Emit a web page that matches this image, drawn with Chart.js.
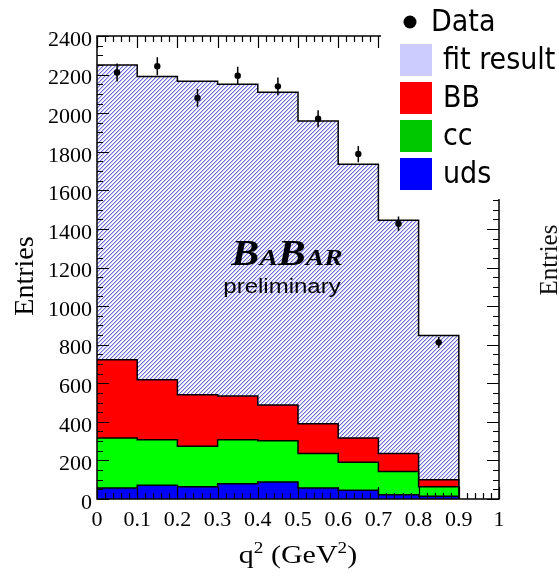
<!DOCTYPE html>
<html>
<head>
<meta charset="utf-8">
<script src="https://cdn.jsdelivr.net/npm/chart.js@4.4.1/dist/chart.umd.min.js"></script>
<style>
  html, body { margin: 0; padding: 0; background: #fff; }
</style>
</head>
<body>
<canvas id="myChart" width="559" height="576"></canvas>
<script>
// q^2 bin edges (GeV^2), nine bins of 0.1
const binEdges = [0, 0.1, 0.2, 0.3, 0.4, 0.5, 0.6, 0.7, 0.8, 0.9];

// fitted components per bin (entries)
const fitTotal   = [2250, 2190, 2165, 2150, 2108, 1960, 1735, 1445, 848];
const bbEntries  = [406, 311, 268, 227, 185, 154, 126, 93, 36];
const ccEntries  = [259, 236, 209, 228, 214, 179, 145, 121, 50];
const udsEntries = [57, 71, 64, 79, 88, 57, 45, 22, 14];

// measured data with statistical errors
const dataEntries = [2211, 2243, 2079, 2194, 2139, 1971, 1788, 1427, 812];
const dataErrors  = [47, 47, 46, 47, 46, 44, 42, 38, 28];

const legendLabels = ['Data', 'fit result', 'BB', 'cc', 'uds'];
const legendColors = [null, '#ccccff', '#ff0000', '#00c800', '#0000ff'];

const SERIF = '"Liberation Serif", "Times New Roman", serif';
const SANS = '"DejaVu Sans Condensed", "DejaVu Sans", sans-serif';

const ctx = document.getElementById('myChart').getContext('2d');

// diagonal hatch used for the fit result
function makeHatch() {
    const tile = document.createElement('canvas');
    tile.width = 4;
    tile.height = 4;
    const t = tile.getContext('2d');
    const shades = ['#6c6cd8', '#c8c8f2', '#fbfbff', '#fbfbff'];
    for (let px = 0; px < 4; px++) {
        for (let py = 0; py < 4; py++) {
            t.fillStyle = shades[(px + py) % 4];
            t.fillRect(px, py, 1, 1);
        }
    }
    return ctx.createPattern(tile, 'repeat');
}

// histogram outline: value of bin i holds from edge i to edge i+1, then drops to 0
function stepPoints(values) {
    const pts = values.map((v, i) => ({ x: binEdges[i], y: v }));
    const last = values.length - 1;
    const end = binEdges[last] + (binEdges[last] - binEdges[last - 1]);
    pts.push({ x: end, y: values[last] });
    pts.push({ x: end, y: 0 });
    return pts;
}

// stack the components
const udsTop = udsEntries.slice();
const ccTop = ccEntries.map((v, i) => v + udsTop[i]);
const bbTop = bbEntries.map((v, i) => v + ccTop[i]);

const binCenters = dataEntries.map((v, i) => i < binEdges.length - 1
    ? (binEdges[i] + binEdges[i + 1]) / 2
    : binEdges[i] + 0.05);
const dataPoints = dataEntries.map((v, i) => ({ x: binCenters[i], y: v }));

const histStyle = {
    borderColor: '#000',
    borderWidth: 1.5,
    pointRadius: 0,
    stepped: true,
    fill: 'origin',
    tension: 0
};

const histDecor = {
    id: 'histDecor',
    afterDatasetsDraw(chart) {
        const c = chart.ctx;
        const a = chart.chartArea;
        const x = chart.scales.x;
        const y = chart.scales.y;
        c.save();

        // error bars on the data points
        c.strokeStyle = '#000';
        c.lineWidth = 1.5;
        c.beginPath();
        for (let i = 0; i < dataEntries.length; i++) {
            const px = x.getPixelForValue(binCenters[i]);
            c.moveTo(px, y.getPixelForValue(dataEntries[i] - dataErrors[i]));
            c.lineTo(px, y.getPixelForValue(dataEntries[i] + dataErrors[i]));
        }
        c.stroke();

        // frame
        c.lineWidth = 1.5;
        c.strokeRect(a.left, a.top, a.right - a.left, a.bottom - a.top);

        // ticks pointing inwards on all four sides
        c.lineWidth = 1.2;
        c.beginPath();
        for (let k = 0; k <= 48; k++) {
            const py = Math.round(y.getPixelForValue(k * 50)) + 0.5;
            const len = k % 4 === 0 ? 12 : 6;
            c.moveTo(a.left, py);
            c.lineTo(a.left + len, py);
            c.moveTo(a.right, py);
            c.lineTo(a.right - len, py);
        }
        for (let k = 0; k <= 50; k++) {
            const px = Math.round(x.getPixelForValue(k / 50)) + 0.5;
            const len = k % 5 === 0 ? 12 : 6;
            c.moveTo(px, a.bottom);
            c.lineTo(px, a.bottom - len);
            c.moveTo(px, a.top);
            c.lineTo(px, a.top + len);
        }
        c.stroke();
        c.restore();
    },
    afterDraw(chart) {
        const c = chart.ctx;
        const a = chart.chartArea;
        c.save();
        c.fillStyle = '#000';

        // y axis title
        c.save();
        c.translate(33, 276);
        c.rotate(-Math.PI / 2);
        c.font = '28px ' + SERIF;
        c.textAlign = 'center';
        c.textBaseline = 'alphabetic';
        c.fillText('Entries', 0, 0);
        c.restore();

        // x axis title with superscripts
        const parts = [['q', 25, 0], ['2', 16, -10], [' (GeV', 25, 0], ['2', 16, -10], [')', 25, 0]];
        const stretch = 1.2;
        let total = 0;
        parts.forEach(p => { c.font = p[1] + 'px ' + SERIF; total += c.measureText(p[0]).width; });
        c.save();
        c.translate((a.left + a.right) / 2 - total * stretch / 2, 563);
        c.scale(stretch, 1);
        let cx = 0;
        c.textAlign = 'left';
        parts.forEach(p => {
            c.font = p[1] + 'px ' + SERIF;
            c.fillText(p[0], cx, p[2]);
            cx += c.measureText(p[0]).width;
        });
        c.restore();

        // experiment label
        const logo = [['B', 35], ['A', 23], ['B', 35], ['A', 23], ['R', 23]];
        let lw = 0;
        logo.forEach(p => { c.font = 'bold italic ' + p[1] + 'px ' + SERIF; lw += c.measureText(p[0]).width; });
        c.save();
        c.translate(287 - lw * 1.2 / 2, 265);
        c.scale(1.2, 1);
        cx = 0;
        logo.forEach(p => {
            c.font = 'bold italic ' + p[1] + 'px ' + SERIF;
            c.fillText(p[0], cx, 0);
            cx += c.measureText(p[0]).width;
        });
        c.restore();

        c.save();
        c.font = '20px "Liberation Sans", Arial, sans-serif';
        const pw = c.measureText('preliminary').width;
        c.translate(282 - pw * 1.2 / 2, 293);
        c.scale(1.2, 1);
        c.fillText('preliminary', 0, 0);
        c.restore();

        // legend box over the top right corner
        c.fillStyle = '#fff';
        c.fillRect(381, 0, 559 - 381, 199);
        c.font = '30px ' + SANS;
        c.textBaseline = 'middle';
        legendLabels.forEach((label, i) => {
            const cy = 22 + 38 * i;
            if (legendColors[i] === null) {
                c.fillStyle = '#000';
                c.beginPath();
                c.arc(410, cy, 6.5, 0, Math.PI * 2);
                c.fill();
                c.fillText(label, 431, cy + 1);
            } else {
                c.fillStyle = legendColors[i];
                c.fillRect(400, cy - 16, 32, 32);
                c.fillStyle = '#000';
                c.fillText(label, 443, cy + 1);
            }
        });

        // axis title of the neighbouring panel
        c.save();
        c.translate(557, 260);
        c.rotate(-Math.PI / 2);
        c.font = '25px ' + SERIF;
        c.textAlign = 'center';
        c.textBaseline = 'alphabetic';
        c.fillStyle = '#111';
        c.fillText('Entries', 0, 0);
        c.restore();

        c.restore();
    }
};

new Chart(ctx, {
    type: 'line',
    data: {
        datasets: [
            {
                label: legendLabels[0],
                data: dataPoints,
                showLine: false,
                pointRadius: 3.2,
                pointBackgroundColor: '#000',
                pointBorderColor: '#000',
                pointBorderWidth: 0,
                order: 0
            },
            Object.assign({ label: legendLabels[4], data: stepPoints(udsTop), backgroundColor: '#0000ff', order: 1 }, histStyle),
            Object.assign({ label: legendLabels[3], data: stepPoints(ccTop), backgroundColor: '#00ff00', order: 2 }, histStyle),
            Object.assign({ label: legendLabels[2], data: stepPoints(bbTop), backgroundColor: '#ff0000', order: 3 }, histStyle),
            Object.assign({ label: legendLabels[1], data: stepPoints(fitTotal), backgroundColor: makeHatch(), order: 4 }, histStyle)
        ]
    },
    options: {
        responsive: false,
        animation: false,
        devicePixelRatio: 1,
        layout: { padding: { top: 36, right: 60, left: 0, bottom: 0 } },
        plugins: {
            legend: { display: false },
            tooltip: { enabled: false }
        },
        scales: {
            x: {
                type: 'linear',
                min: 0,
                max: 1,
                grid: { display: false, drawTicks: false },
                border: { display: false },
                ticks: {
                    stepSize: 0.1,
                    padding: 8,
                    color: '#000',
                    font: { family: SERIF, size: 22 },
                    maxRotation: 0,
                    callback: v => String(Number(v.toFixed(1)))
                },
                afterFit: s => { s.height = 77; }
            },
            y: {
                min: 0,
                max: 2400,
                grid: { display: false, drawTicks: false },
                border: { display: false },
                ticks: {
                    stepSize: 200,
                    padding: 5,
                    labelOffset: 4,
                    color: '#000',
                    font: { family: SERIF, size: 22 },
                    callback: v => String(v)
                },
                afterFit: s => { s.width = 97; }
            }
        }
    },
    plugins: [histDecor]
});
</script>
</body>
</html>
